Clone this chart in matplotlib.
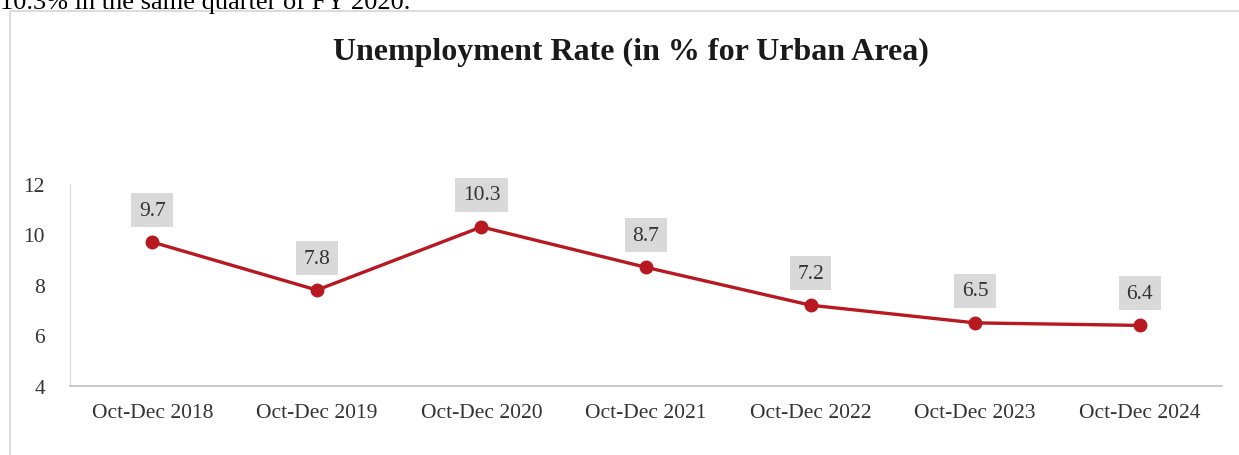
import matplotlib
matplotlib.use("Agg")
import matplotlib.pyplot as plt
from matplotlib.patches import Rectangle

# Urban unemployment rate, Oct-Dec quarter each year
quarters = ["Oct-Dec 2018", "Oct-Dec 2019", "Oct-Dec 2020", "Oct-Dec 2021",
            "Oct-Dec 2022", "Oct-Dec 2023", "Oct-Dec 2024"]
rates = [9.7, 7.8, 10.3, 8.7, 7.2, 6.5, 6.4]
y_ticks = [4, 6, 8, 10, 12]

plt.rcParams['font.family'] = ['Liberation Serif', 'DejaVu Serif']

W, H = 1239, 456
fig = plt.figure(figsize=(W / 100, H / 100), dpi=100)
fig.set_facecolor('white')

# tail of the paragraph above the chart
fig.text(0.0, 1 - 9 / H, "10.3% in the same quarter of FY 2020.",
         fontsize=19, color='black', va='baseline', ha='left')

# chart frame
frame = Rectangle((10 / W, -0.1), 1.2, 1 - 12 / H + 0.1, transform=fig.transFigure,
                  fill=False, edgecolor='#dcdcdc', linewidth=1.5)
fig.add_artist(frame)

fig.text(631 / W, 1 - 52 / H, "Unemployment Rate (in % for Urban Area)",
         fontsize=23, fontweight='bold', color='#1a1a1a', ha='center', va='center')

ax = fig.add_axes([70 / W, (H - 387) / H, (1222 - 70) / W, (387 - 185) / H])
x = list(range(len(quarters)))
ax.plot(x, rates, color='#b8181f', linewidth=2.4, marker='o', markersize=9,
        markerfacecolor='#b8181f', markeredgecolor='#b8181f', zorder=3)

for xi, v in zip(x, rates):
    ax.annotate(f"{v}", (xi, v), xytext=(0, 23), textcoords='offset points',
                ha='center', va='center', fontsize=15.5, color='#333333',
                bbox=dict(boxstyle='square,pad=0.35', facecolor='#d9d9d9', edgecolor='none'))

ax.set_xlim(-0.5, len(quarters) - 0.5)
ax.set_ylim(4, 12)
ax.set_xticks(x)
ax.set_xticklabels(quarters, fontsize=15.5, color='#333333')
ax.set_yticks(y_ticks)
ax.set_yticklabels([str(t) for t in y_ticks], fontsize=15.5, color='#333333')
ax.tick_params(length=0)
ax.tick_params(axis='x', pad=12)
ax.tick_params(axis='y', pad=18)

for side in ['top', 'right']:
    ax.spines[side].set_visible(False)
ax.spines['left'].set_color('#d9d9d9')
ax.spines['bottom'].set_color('#bfbfbf')
ax.spines['bottom'].set_linewidth(1.2)
ax.set_facecolor('none')

fig.savefig("out.png", dpi=100, facecolor='white')
